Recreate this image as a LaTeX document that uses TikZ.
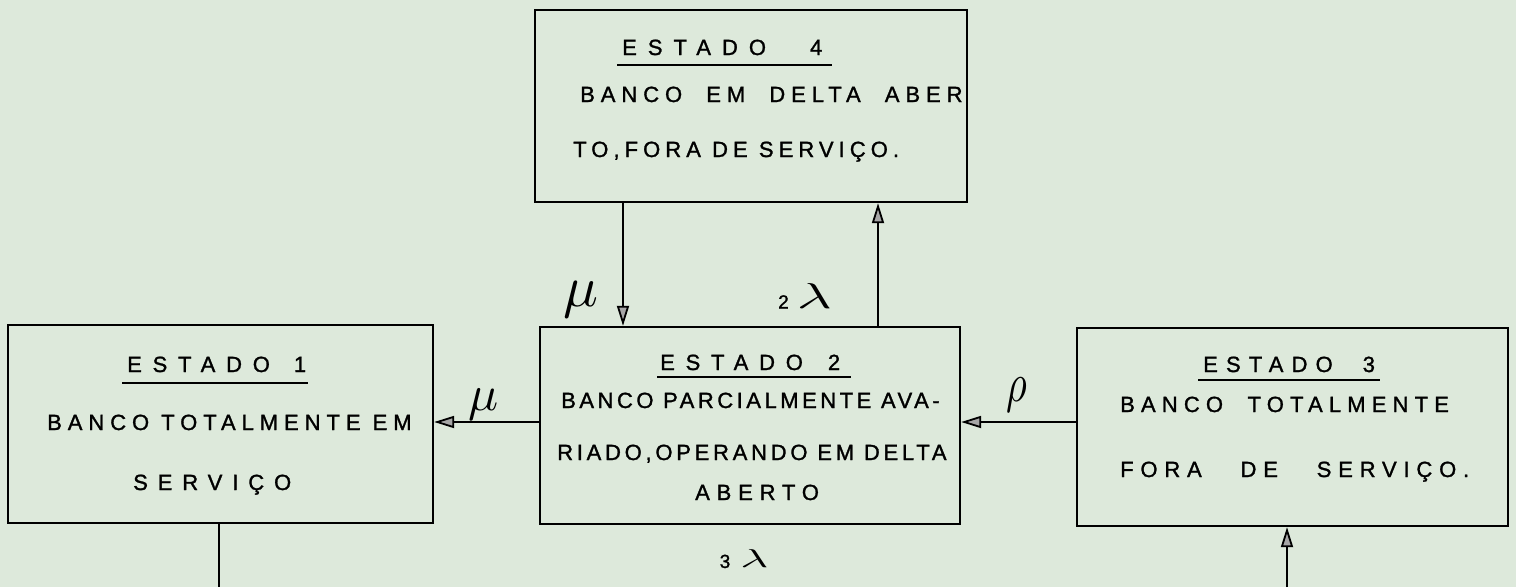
\documentclass[tikz,border=0pt]{standalone}
\usepackage{fontspec}
\setmainfont{Liberation Sans}[FakeBold=1.3]
\usetikzlibrary{arrows.meta}
\definecolor{paper}{RGB}{221,233,219}
\newcommand\lsp[2]{{\addfontfeatures{LetterSpace=#1}#2}}
\tikzset{
  box/.style={draw, line width=2.4pt, inner sep=0pt},
  txt/.style={anchor=base west, inner sep=0pt, font=\fontsize{22}{22}\selectfont},
  uline/.style={line width=2.8pt},
  conn/.style={line width=1.8pt},
  arr/.style={conn, -{Triangle[length=20pt,width=12pt,line width=1.8pt,fill=gray!70]}},
  greek/.style={inner sep=0pt}
}
\begin{document}
\begin{tikzpicture}[x=1pt,y=-1pt]
\fill[paper] (0,0) rectangle (1516,587);
\useasboundingbox (0,0) rectangle (1516,587);
% boxes
\node[box, minimum width=432pt, minimum height=192pt] (s4) at (751,106) {};
\node[box, minimum width=425pt, minimum height=198pt] (s1) at (220.5,424) {};
\node[box, minimum width=420pt, minimum height=197pt] (s2) at (750,425.5) {};
\node[box, minimum width=431pt, minimum height=198pt] (s3) at (1292.5,427) {};
% box 4 text
\node[txt] (s4t) at (622,55) {\lsp{50}{ESTADO}\hspace{44pt}4};
\draw[uline] (617,65) -- (832,65);
\node[txt] (s4a) at (580,102) {\lsp{27}{BANCO\ \ EM\ \ DELTA\ \ ABER}};
\node[txt] (s4b) at (573,157) {\lsp{23}{TO,FORA DE SERVIÇO.}};
% box 1 text
\node[txt] (s1t) at (127,372) {\lsp{49}{ESTADO}\hspace{24pt}1};
\draw[uline] (122,383) -- (308,383);
\node[txt] (s1a) at (47,430) {\lsp{27}{BANCO TOTALMENTE EM}};
\node[txt] (s1b) at (133,490) {\lsp{45}{SERVIÇO}};
% box 2 text
\node[txt] (s2t) at (660,370) {\lsp{49}{ESTADO}\hspace{25pt}2};
\draw[uline] (657,377) -- (851,377);
\node[txt] (s2a) at (561,408) {\lsp{16}{BANCO PARCIALMENTE AVA-}};
\node[txt] (s2b) at (557,460) {\lsp{17}{RIADO,OPERANDO EM DELTA}};
\node[txt] (s2c) at (695,500) {\lsp{31}{ABERTO}};
% box 3 text
\node[txt] (s3t) at (1203,372) {\lsp{37}{ESTADO}\hspace{30pt}3};
\draw[uline] (1198,380) -- (1380,380);
\node[txt] (s3a) at (1120,412) {\lsp{28}{BANCO\ \ TOTALMENTE}};
\node[txt] (s3b) at (1120,477) {\lsp{31}{FORA\ \ \ DE\ \ \ SERVIÇO.}};
% helper coordinates
\coordinate (xa) at (623,0);
\coordinate (xb) at (878,0);
\coordinate (ya) at (0,422);
\coordinate (xc) at (219,0);
\coordinate (xd) at (1287,0);
\coordinate (e1) at (219,587);
\coordinate (e3) at (1287,587);
% connectors
\draw[arr] (s4.south -| xa) -- (s2.north -| xa);
\draw[arr] (s2.north -| xb) -- (s4.south -| xb);
\draw[arr] (s2.west |- ya) -- (s1.east |- ya);
\draw[arr] (s3.west |- ya) -- (s2.east |- ya);
\draw[conn] (s1.south -| xc) -- (e1);
\draw[arr] (e3) -- (s3.south -| xd);
% labels
\node[greek] (lmu1) at (581,300) {\scalebox{5.8}{$\mu$}};
\node[greek] (l2l) at (805,296) {{\fontsize{19}{19}\selectfont 2}\hspace{8pt}\scalebox{6}[3.6]{$\lambda$}};
\node[greek] (lmu2) at (484,405) {\scalebox{5}{$\mu$}};
\node[greek] (lrho) at (1017,395) {\scalebox{4}[5.5]{$\rho$}};
\node[greek] (l3l) at (744,559) {{\fontsize{19}{19}\selectfont 3}\hspace{10pt}\scalebox{4.8}[2.6]{$\lambda$}};
\end{tikzpicture}
\end{document}
